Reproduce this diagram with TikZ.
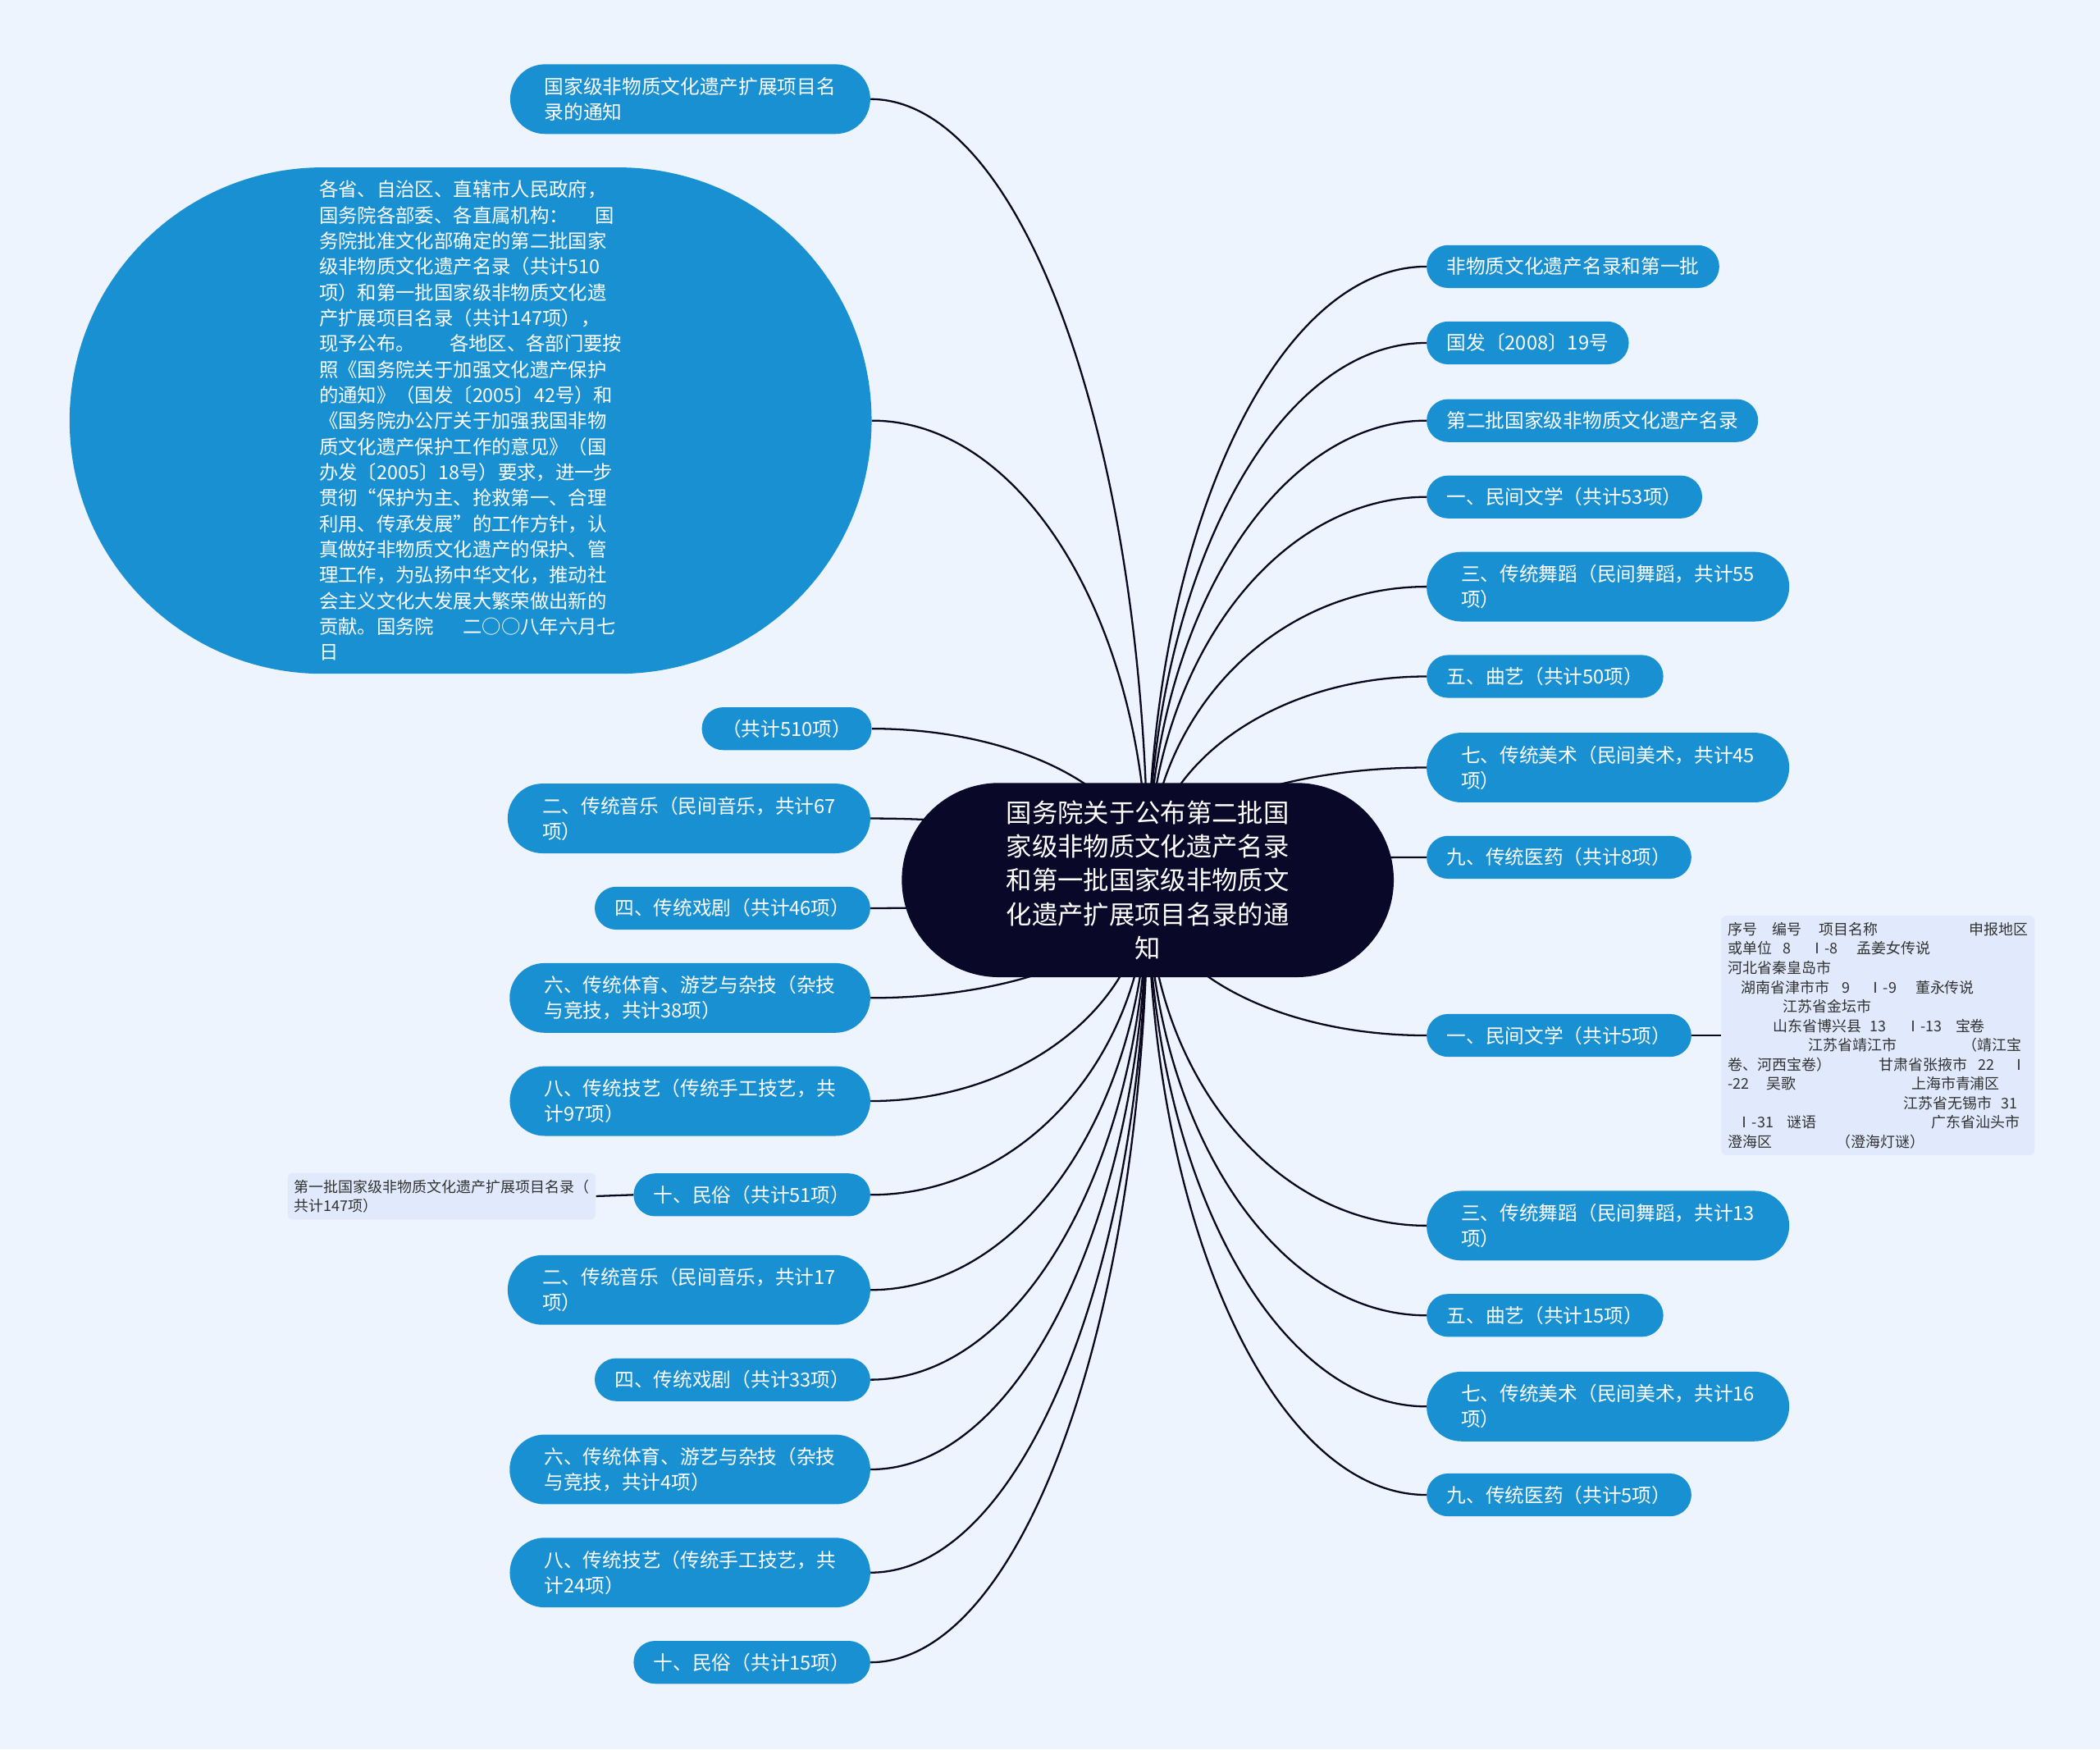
\documentclass[tikz,border=0pt]{standalone}
\usepackage{fontspec}
\setmainfont{Noto Sans CJK SC}
\usetikzlibrary{shapes.misc,calc}
\definecolor{bgblue}{RGB}{238,244,254}
\definecolor{leafblue}{RGB}{25,144,210}
\definecolor{rootnavy}{RGB}{10,8,40}
\definecolor{notefill}{RGB}{224,234,252}
\definecolor{notetext}{RGB}{50,50,50}
\definecolor{linkcol}{RGB}{10,8,30}
\pgfdeclarelayer{bg}
\pgfdeclarelayer{edges}
\pgfsetlayers{bg,edges,main}
\newcommand\tcol[2]{\makebox[0pt][l]{\hspace*{#1pt}#2}}

\begin{document}
\begin{tikzpicture}[x=1pt,y=-1pt,
  root/.style={rounded rectangle, fill=rootnavy, text=white, inner xsep=47pt, inner ysep=0pt,
    minimum height=145pt, align=center, font=\fontsize{19.2}{25.3}\selectfont},
  leaf/.style={rounded rectangle, fill=leafblue, text=white, inner xsep=13.5pt, inner ysep=0pt,
    minimum height=32pt, align=left, font=\fontsize{14.5}{19}\selectfont},
  leaftwo/.style={leaf, inner xsep=20pt, minimum height=52pt},
  note/.style={rectangle, rounded corners=4pt, fill=notefill, text=notetext, inner sep=5pt,
    align=left, font=\fontsize{11}{14.4}\selectfont},
  link/.style={linkcol, line width=1.4pt}]
\useasboundingbox (0,0) rectangle (1568,1306);
\begin{pgfonlayer}{bg}
\fill[bgblue] (0,0) rectangle (1568,1306);
\end{pgfonlayer}

% centre
\node[root] (root) at (857,657) {国务院关于公布第二批国\\家级非物质文化遗产名录\\和第一批国家级非物质文\\化遗产扩展项目名录的通\\知};

% left side
\node[leaftwo, anchor=east] (l1) at (650,74) {国家级非物质文化遗产扩展项目名\\录的通知};
\node[leaf, anchor=east, inner xsep=57pt, minimum height=378pt, font=\fontsize{14.3}{19.2}\selectfont] (l2) at (651,314)
  {各省、自治区、直辖市人民政府，\\国务院各部委、各直属机构：\hspace*{1.4em}国\\务院批准文化部确定的第二批国家\\级非物质文化遗产名录（共计510\\项）和第一批国家级非物质文化遗\\产扩展项目名录（共计147项），\\现予公布。\hspace*{1.8em}各地区、各部门要按\\照《国务院关于加强文化遗产保护\\的通知》（国发〔2005〕42号）和\\《国务院办公厅关于加强我国非物\\质文化遗产保护工作的意见》（国\\办发〔2005〕18号）要求，进一步\\贯彻“保护为主、抢救第一、合理\\利用、传承发展”的工作方针，认\\真做好非物质文化遗产的保护、管\\理工作，为弘扬中华文化，推动社\\会主义文化大发展大繁荣做出新的\\贡献。国务院\hspace*{1.5em}二○○八年六月七\\日};
\node[leaf, anchor=east] (l3) at (651,544) {（共计510项）};
\node[leaftwo, anchor=east] (l4) at (650,611) {二、传统音乐（民间音乐，共计67\\项）};
\node[leaf, anchor=east] (l5) at (650,678) {四、传统戏剧（共计46项）};
\node[leaftwo, anchor=east] (l6) at (650,745) {六、传统体育、游艺与杂技（杂技\\与竞技，共计38项）};
\node[leaftwo, anchor=east] (l7) at (650,822) {八、传统技艺（传统手工技艺，共\\计97项）};
\node[leaf, anchor=east] (l8) at (650,892) {十、民俗（共计51项）};
\node[leaftwo, anchor=east] (l9) at (650,963) {二、传统音乐（民间音乐，共计17\\项）};
\node[leaf, anchor=east] (l10) at (650,1030) {四、传统戏剧（共计33项）};
\node[leaftwo, anchor=east] (l11) at (650,1097) {六、传统体育、游艺与杂技（杂技\\与竞技，共计4项）};
\node[leaftwo, anchor=east] (l12) at (650,1174) {八、传统技艺（传统手工技艺，共\\计24项）};
\node[leaf, anchor=east] (l13) at (650,1241) {十、民俗（共计15项）};
\node[note, anchor=east] (l8note) at (445,893) {第一批国家级非物质文化遗产扩展项目名录（\\共计147项）};

% right side
\node[leaf, anchor=west] (r1) at (1065,199) {非物质文化遗产名录和第一批};
\node[leaf, anchor=west] (r2) at (1065,256) {国发〔2008〕19号};
\node[leaf, anchor=west] (r3) at (1065,314) {第二批国家级非物质文化遗产名录};
\node[leaf, anchor=west] (r4) at (1065,371) {一、民间文学（共计53项）};
\node[leaftwo, anchor=west] (r5) at (1065,438) {三、传统舞蹈（民间舞蹈，共计55\\项）};
\node[leaf, anchor=west] (r6) at (1065,505) {五、曲艺（共计50项）};
\node[leaftwo, anchor=west] (r7) at (1065,573) {七、传统美术（民间美术，共计45\\项）};
\node[leaf, anchor=west] (r8) at (1065,640) {九、传统医药（共计8项）};
\node[leaf, anchor=west] (r9) at (1065,773) {一、民间文学（共计5项）};
\node[leaftwo, anchor=west] (r10) at (1065,915) {三、传统舞蹈（民间舞蹈，共计13\\项）};
\node[leaf, anchor=west] (r11) at (1065,982) {五、曲艺（共计15项）};
\node[leaftwo, anchor=west] (r12) at (1065,1050) {七、传统美术（民间美术，共计16\\项）};
\node[leaf, anchor=west] (r13) at (1065,1116) {九、传统医药（共计5项）};
\node[note, anchor=west, text width=224pt] (r9note) at (1285,773)
  {\tcol{0}{序号}\tcol{33}{编号}\tcol{68}{项目名称}\tcol{180}{申报地区}\\
   \tcol{0}{或单位}\tcol{41}{8}\tcol{61}{Ⅰ-8}\tcol{96}{孟姜女传说}\\
   \tcol{0}{河北省秦皇岛市}\\
   \tcol{10}{湖南省津市市}\tcol{85}{9}\tcol{105}{Ⅰ-9}\tcol{140}{董永传说}\\
   \tcol{41}{江苏省金坛市}\\
   \tcol{34}{山东省博兴县}\tcol{106}{13}\tcol{133}{Ⅰ-13}\tcol{170}{宝卷}\\
   \tcol{60}{江苏省靖江市}\tcol{175}{（靖江宝}\\
   \tcol{0}{卷、河西宝卷）}\tcol{113}{甘肃省张掖市}\tcol{187}{22}\tcol{212}{Ⅰ}\\
   \tcol{0}{-22}\tcol{29}{吴歌}\tcol{137}{上海市青浦区}\\
   \tcol{131}{江苏省无锡市}\tcol{204}{31}\\
   \tcol{7}{Ⅰ-31}\tcol{44}{谜语}\tcol{152}{广东省汕头市}\\
   \tcol{0}{澄海区}\tcol{81}{（澄海灯谜）}};

% connectors
\begin{pgfonlayer}{edges}
\foreach \i in {1,...,13} {
  \draw[link] let \p1=(root.center), \p2=(l\i.east) in
    (\p1) .. controls (\x1,{0.448*(\y1)+0.552*(\y2)}) and ({0.448*(\x2)+0.552*(\x1)},\y2) .. (\p2);
  \draw[link] let \p1=(root.center), \p2=(r\i.west) in
    (\p1) .. controls (\x1,{0.448*(\y1)+0.552*(\y2)}) and ({0.448*(\x2)+0.552*(\x1)},\y2) .. (\p2);
}
\draw[link] (l8.west) -- (l8note.east);
\draw[link] (r9.east) -- (r9note.west);
\end{pgfonlayer}
\end{tikzpicture}
\end{document}
